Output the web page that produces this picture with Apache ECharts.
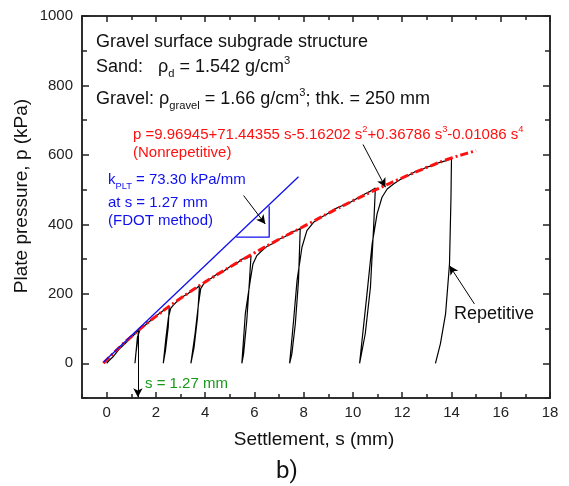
<!DOCTYPE html>
<html>
<head>
<meta charset="utf-8">
<script src="https://cdn.jsdelivr.net/npm/echarts@6/dist/echarts.min.js"></script>
<style>
	html, body { margin: 0; padding: 0; background: #fff; }
	#chart { width: 569px; height: 486px; }
</style>
</head>
<body>
<div id="chart"></div>
<script>
	// measured curve (loading, unloading and reloading loops), [s mm, p kPa]
	var measured = [
		[0, 0], [0.1, 8], [0.25, 18], [0.5, 40], [0.75, 57], [1.0, 74], [1.15, 85], [1.29, 96],
		[1.26, 65], [1.19, 30], [1.15, 0],
		[1.2, 37], [1.25, 75], [1.36, 98], [1.5, 106],
		[1.75, 121], [2.0, 136], [2.2, 146], [2.4, 157], [2.54, 163],
		[2.5, 104], [2.39, 37], [2.3, 0],
		[2.41, 75], [2.51, 132], [2.6, 158], [2.7, 167],
		[2.9, 181], [3.1, 192], [3.3, 200], [3.5, 212], [3.65, 216], [3.77, 224],
		[3.69, 132], [3.55, 46], [3.42, 0],
		[3.59, 85], [3.73, 171], [3.82, 215], [4.0, 236],
		[4.25, 245], [4.5, 258], [4.75, 265], [5.0, 278], [5.25, 286], [5.5, 300], [5.7, 303], [5.86, 309],
		[5.8, 238], [5.69, 123], [5.56, 27], [5.49, 0],
		[5.63, 142], [5.83, 238], [5.94, 286], [6.1, 310], [6.3, 324],
		[6.5, 336], [6.75, 345], [7.0, 357], [7.25, 365], [7.5, 378], [7.7, 382], [7.86, 388],
		[7.79, 238], [7.66, 113], [7.52, 27], [7.43, 0],
		[7.59, 123], [7.73, 238], [7.93, 334], [8.13, 382], [8.4, 406],
		[8.7, 420], [9.0, 432], [9.25, 444], [9.5, 452], [9.75, 458], [10.0, 468], [10.25, 478], [10.5, 488], [10.7, 495], [10.91, 505],
		[10.84, 392], [10.71, 219], [10.5, 85], [10.27, 0],
		[10.57, 200], [10.78, 344], [10.98, 430], [11.18, 478], [11.39, 502], [11.66, 517],
		[12.0, 533], [12.25, 541], [12.5, 551], [12.75, 556], [13.0, 565], [13.25, 570], [13.5, 578], [13.75, 583], [14.0, 589],
		[13.98, 478], [13.92, 286], [13.76, 142], [13.55, 56], [13.35, 0]
	];
	// polynomial fit (nonrepetitive)
	var fitCurve = [
		[-0.13, 0], [0, 10], [1, 77], [2, 135], [3, 187], [4, 234], [5, 277], [6, 318], [7, 357],
		[8, 394], [9, 432], [10, 468], [11, 502], [12, 534], [13, 564], [14, 591], [15, 612]
	];
	// FDOT tangent and slope triangle
	var tangentLine = [[-0.13, 3], [7.79, 537]];
	var slopeTriangle = [[5.26, 363], [6.6, 363], [6.6, 452]];
	// annotation arrows [from, to]
	var arrows = [
		[[5.56, 483], [6.44, 401]],
		[[10.41, 630], [11.32, 507]],
		[[14.93, 171], [13.92, 281]],
		[[1.27, 94], [1.27, -98]]
	];
	var xMajor = [0, 2, 4, 6, 8, 10, 12, 14, 16, 18];
	var xMinor = [-1, 1, 3, 5, 7, 9, 11, 13, 15, 17];
	var yMajor = [0, 200, 400, 600, 800, 1000];
	var yMinor = [-100, 100, 300, 500, 700, 900];

	var FONT = '"Liberation Sans", Arial, sans-serif';
	var AX = '#222';

	function makeAxis(dir, pos, ticks, len, labels) {
		var isX = dir == 'x';
		return {
			type: 'value',
			position: pos,
			min: isX ? -1 : -100,
			max: isX ? 18 : 1000,
			interval: isX ? 1 : 100,
			axisLine: { show: true, onZero: false, lineStyle: { color: AX, width: 1.5 } },
			axisTick: { show: true, inside: true, length: len, customValues: ticks, lineStyle: { color: AX, width: 1.5 } },
			axisLabel: {
				show: labels,
				customValues: isX ? xMajor : yMajor,
				formatter: function(v) { return String(v); },
				color: '#222',
				fontFamily: FONT,
				fontSize: 15,
				margin: isX ? 7 : 9
			},
			splitLine: { show: false }
		};
	}

	function txt(x, y, text, size, color, rich) {
		return {
			type: 'text',
			x: x,
			y: y,
			silent: true,
			style: {
				text: text,
				fill: color,
				font: size + 'px ' + FONT,
				verticalAlign: 'middle',
				lineHeight: size + 6,
				rich: rich
			}
		};
	}

	function richFor(size, color) {
		return {
			sup: { fontSize: size * 0.62, fontFamily: FONT, fill: color, color: color, verticalAlign: 'top' },
			sub: { fontSize: size * 0.62, fontFamily: FONT, fill: color, color: color, verticalAlign: 'bottom' }
		};
	}

	var chart = echarts.init(document.getElementById('chart'), null, { renderer: 'canvas' });

	var arrowData = [];
	for (var i = 0; i < arrows.length; i++) {
		arrowData.push([{ coord: arrows[i][0] }, { coord: arrows[i][1] }]);
	}

	var option = {
		animation: false,
		backgroundColor: '#fff',
		grid: { left: 82, right: 19, top: 16, bottom: 88, containLabel: false },
		xAxis: [
			makeAxis('x', 'bottom', xMajor, 6, true),
			makeAxis('x', 'bottom', xMinor, 4, false),
			makeAxis('x', 'top', xMajor, 6, false),
			makeAxis('x', 'top', xMinor, 4, false)
		],
		yAxis: [
			makeAxis('y', 'left', yMajor, 7, true),
			makeAxis('y', 'left', yMinor, 5, false),
			makeAxis('y', 'right', yMajor, 7, false),
			makeAxis('y', 'right', yMinor, 5, false)
		],
		series: [
			{
				name: 'Repetitive',
				type: 'line',
				data: measured,
				showSymbol: false,
				lineStyle: { color: '#000', width: 1.2 },
				markLine: {
					silent: true,
					symbol: ['none', 'arrow'],
					symbolSize: [7, 9],
					label: { show: false },
					lineStyle: { color: '#000', width: 1, type: 'solid' },
					data: arrowData
				}
			},
			{
				name: 'Nonrepetitive',
				type: 'line',
				data: fitCurve,
				smooth: true,
				showSymbol: false,
				lineStyle: { color: '#ff1010', width: 3, type: [8, 3, 2, 3] }
			},
			{
				name: 'tangent',
				type: 'line',
				data: tangentLine,
				showSymbol: false,
				lineStyle: { color: '#1010ee', width: 1.3 }
			},
			{
				name: 'triangle',
				type: 'line',
				data: slopeTriangle,
				showSymbol: false,
				lineStyle: { color: '#1010ee', width: 1.3 }
			}
		],
		graphic: [
			txt(96, 42, 'Gravel surface subgrade structure', 18, '#111'),
			txt(96, 67, 'Sand:   ρ{sub|d} = 1.542 g/cm{sup|3}', 18, '#111', richFor(18, '#111')),
			txt(96, 99, 'Gravel: ρ{sub|gravel} = 1.66 g/cm{sup|3}; thk. = 250 mm', 18, '#111', richFor(18, '#111')),
			txt(133, 135, 'p =9.96945+71.44355 s-5.16202 s{sup|2}+0.36786 s{sup|3}-0.01086 s{sup|4}', 15, '#ff1010', richFor(15, '#ff1010')),
			txt(133, 153, '(Nonrepetitive)', 15, '#ff1010'),
			txt(108, 180, 'k{sub|PLT} = 73.30 kPa/mm', 15, '#1010ee', richFor(15, '#1010ee')),
			txt(108, 203, 'at s = 1.27 mm', 15, '#1010ee'),
			txt(108, 221, '(FDOT method)', 15, '#1010ee'),
			txt(454, 314, 'Repetitive', 18, '#111'),
			txt(145, 384, 's = 1.27 mm', 15, '#199819'),
			{
				type: 'text',
				x: 314,
				y: 440,
				silent: true,
				style: { text: 'Settlement, s (mm)', fill: '#111', font: '19px ' + FONT, align: 'center', verticalAlign: 'middle' }
			},
			{
				type: 'text',
				x: 22,
				y: 196,
				rotation: Math.PI / 2,
				silent: true,
				style: { text: 'Plate pressure, p (kPa)', fill: '#111', font: '19px ' + FONT, align: 'center', verticalAlign: 'middle' }
			},
			{
				type: 'text',
				x: 287,
				y: 472,
				silent: true,
				style: { text: 'b)', fill: '#111', font: '24px Roboto, sans-serif', align: 'center', verticalAlign: 'middle' }
			}
		]
	};
	chart.setOption(option);
</script>
</body>
</html>
